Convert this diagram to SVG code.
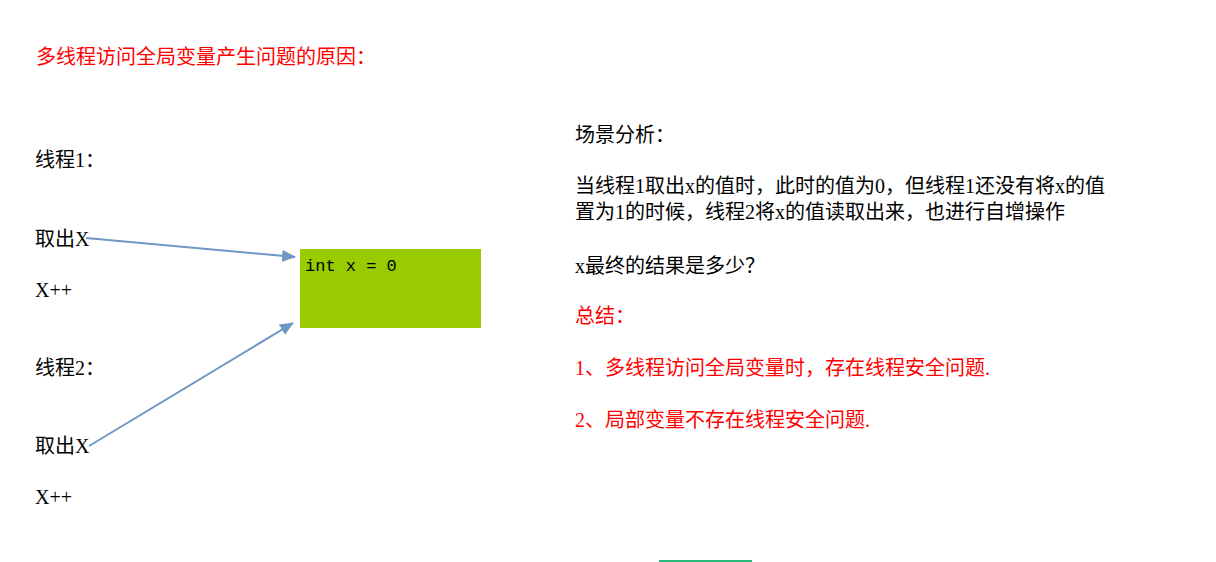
<svg xmlns="http://www.w3.org/2000/svg" width="1216" height="562" viewBox="0 0 1216 562">
<style>
text{font-family:"Liberation Serif","Noto Sans CJK SC",serif;font-size:20px;fill:#000}
.red{fill:#FF0000}
.mono{font-family:"Liberation Mono","Noto Sans CJK SC",monospace;font-size:17px}
.conn{stroke:#6E97C3;stroke-width:2;fill:none}
</style>
<defs>
<marker id="ah" markerUnits="userSpaceOnUse" markerWidth="14" markerHeight="12" refX="13" refY="6" orient="auto">
<path d="M0,0 L14,6 L0,12 Z" fill="#6E97C3"/>
</marker>
</defs>
<rect width="1216" height="562" fill="#fff"/>
<g id="title"><text class="red" x="36" y="64">多线程访问全局变量产生问题的原因：</text></g>
<g id="thread1">
<text x="35" y="167">线程1：</text>
<text id="take1" x="35" y="246">取出X</text>
<text x="35" y="297">X++</text>
</g>
<g id="thread2">
<text x="35" y="375">线程2：</text>
<text id="take2" x="35" y="453">取出X</text>
<text x="35" y="504">X++</text>
</g>
<g id="var">
<rect x="300" y="249" width="181" height="79" fill="#99CC00"/>
<text class="mono" x="305" y="271">int x = 0</text>
</g>
<g id="connectors">
<line class="conn" x1="86" y1="238" x2="295" y2="257" marker-end="url(#ah)"/>
<line class="conn" x1="89" y1="446" x2="293" y2="323" marker-end="url(#ah)"/>
</g>
<g id="analysis">
<text x="575" y="142">场景分析：</text>
<text x="575" y="193">当线程1取出x的值时，此时的值为0，但线程1还没有将x的值</text>
<text x="575" y="219">置为1的时候，线程2将x的值读取出来，也进行自增操作</text>
<text x="575" y="273">x最终的结果是多少？</text>
</g>
<g id="summary">
<text class="red" x="575" y="323">总结：</text>
<text class="red" x="575" y="375">1、多线程访问全局变量时，存在线程安全问题.</text>
<text class="red" x="575" y="427">2、局部变量不存在线程安全问题.</text>
</g>
<line x1="659" y1="561" x2="752" y2="561" stroke="#27BB7C" stroke-width="2"/>
</svg>
